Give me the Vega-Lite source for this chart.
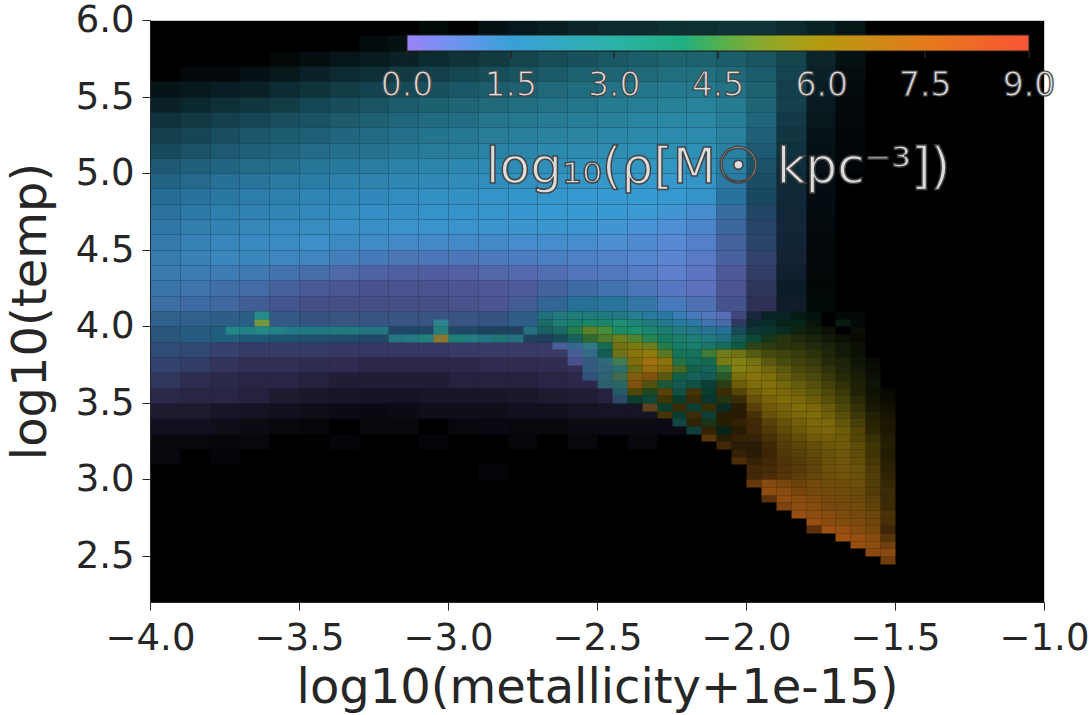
{"$schema":"https://vega.github.io/schema/vega-lite/v6.json","width":894,"height":582,"autosize":{"type":"none"},"padding":{"left":150,"top":20,"right":47,"bottom":113},"background":"white","view":{"fill":"#000000","stroke":"#d0d0d0"},
"config":{"font":"DejaVu Sans"},
"datasets":{"coarse":[
{"x":-3.05,"y":5.95,"v":2.5,"a":0.05},{"x":-2.85,"y":5.95,"v":2.5,"a":0.1},{"x":-2.75,"y":5.95,"v":2.5,"a":0.14},{"x":-2.65,"y":5.95,"v":2.5,"a":0.18},{"x":-2.55,"y":5.95,"v":2.5,"a":0.22},{"x":-2.45,"y":5.95,"v":2.5,"a":0.25},{"x":-2.35,"y":5.95,"v":2.5,"a":0.25},{"x":-2.25,"y":5.95,"v":2.5,"a":0.28},{"x":-2.15,"y":5.95,"v":2.5,"a":0.28},{"x":-2.05,"y":5.95,"v":2.5,"a":0.3},{"x":-1.95,"y":5.95,"v":2.5,"a":0.3},{"x":-1.85,"y":5.95,"v":2.5,"a":0.25},{"x":-1.75,"y":5.95,"v":2.5,"a":0.2},{"x":-1.65,"y":5.95,"v":2.5,"a":0.12},
{"x":-3.25,"y":5.85,"v":2.4,"a":0.07},{"x":-3.15,"y":5.85,"v":2.4,"a":0.1},{"x":-3.05,"y":5.85,"v":2.4,"a":0.14},{"x":-2.95,"y":5.85,"v":2.4,"a":0.2},{"x":-2.85,"y":5.85,"v":2.4,"a":0.25},{"x":-2.75,"y":5.85,"v":2.4,"a":0.28},{"x":-2.65,"y":5.85,"v":2.4,"a":0.32},{"x":-2.55,"y":5.85,"v":2.4,"a":0.36},{"x":-2.45,"y":5.85,"v":2.4,"a":0.4},{"x":-2.35,"y":5.85,"v":2.4,"a":0.42},{"x":-2.25,"y":5.85,"v":2.4,"a":0.45},{"x":-2.15,"y":5.85,"v":2.4,"a":0.45},{"x":-2.05,"y":5.85,"v":2.4,"a":0.45},{"x":-1.95,"y":5.85,"v":2.4,"a":0.42},{"x":-1.85,"y":5.85,"v":2.4,"a":0.35},{"x":-1.75,"y":5.85,"v":2.4,"a":0.22},{"x":-1.65,"y":5.85,"v":2.4,"a":0.1},
{"x":-3.55,"y":5.75,"v":2.3,"a":0.04},{"x":-3.45,"y":5.75,"v":2.3,"a":0.08},{"x":-3.35,"y":5.75,"v":2.3,"a":0.12},{"x":-3.25,"y":5.75,"v":2.3,"a":0.16},{"x":-3.15,"y":5.75,"v":2.3,"a":0.2},{"x":-3.05,"y":5.75,"v":2.3,"a":0.25},{"x":-2.95,"y":5.75,"v":2.3,"a":0.3},{"x":-2.85,"y":5.75,"v":2.3,"a":0.34},{"x":-2.75,"y":5.75,"v":2.3,"a":0.4},{"x":-2.65,"y":5.75,"v":2.3,"a":0.45},{"x":-2.55,"y":5.75,"v":2.3,"a":0.48},{"x":-2.45,"y":5.75,"v":2.3,"a":0.52},{"x":-2.35,"y":5.75,"v":2.3,"a":0.55},{"x":-2.25,"y":5.75,"v":2.3,"a":0.58},{"x":-2.15,"y":5.75,"v":2.3,"a":0.58},{"x":-2.05,"y":5.75,"v":2.3,"a":0.55},{"x":-1.95,"y":5.75,"v":2.3,"a":0.5},{"x":-1.85,"y":5.75,"v":2.3,"a":0.4},{"x":-1.75,"y":5.75,"v":2.3,"a":0.22},{"x":-1.65,"y":5.75,"v":2.3,"a":0.1},
{"x":-3.85,"y":5.65,"v":2.2,"a":0.05},{"x":-3.75,"y":5.65,"v":2.2,"a":0.05},{"x":-3.65,"y":5.65,"v":2.2,"a":0.1},{"x":-3.55,"y":5.65,"v":2.2,"a":0.14},{"x":-3.45,"y":5.65,"v":2.2,"a":0.2},{"x":-3.35,"y":5.65,"v":2.2,"a":0.25},{"x":-3.25,"y":5.65,"v":2.2,"a":0.28},{"x":-3.15,"y":5.65,"v":2.2,"a":0.34},{"x":-3.05,"y":5.65,"v":2.2,"a":0.38},{"x":-2.95,"y":5.65,"v":2.2,"a":0.42},{"x":-2.85,"y":5.65,"v":2.2,"a":0.46},{"x":-2.75,"y":5.65,"v":2.2,"a":0.5},{"x":-2.65,"y":5.65,"v":2.2,"a":0.54},{"x":-2.55,"y":5.65,"v":2.2,"a":0.58},{"x":-2.45,"y":5.65,"v":2.2,"a":0.6},{"x":-2.35,"y":5.65,"v":2.2,"a":0.62},{"x":-2.25,"y":5.65,"v":2.2,"a":0.65},{"x":-2.15,"y":5.65,"v":2.2,"a":0.65},{"x":-2.05,"y":5.65,"v":2.2,"a":0.62},{"x":-1.95,"y":5.65,"v":2.2,"a":0.55},{"x":-1.85,"y":5.65,"v":2.2,"a":0.4},{"x":-1.75,"y":5.65,"v":2.2,"a":0.2},{"x":-1.65,"y":5.65,"v":2.2,"a":0.08},
{"x":-3.95,"y":5.55,"v":2.1,"a":0.12},{"x":-3.85,"y":5.55,"v":2.1,"a":0.14},{"x":-3.75,"y":5.55,"v":2.1,"a":0.18},{"x":-3.65,"y":5.55,"v":2.1,"a":0.2},{"x":-3.55,"y":5.55,"v":2.1,"a":0.26},{"x":-3.45,"y":5.55,"v":2.1,"a":0.3},{"x":-3.35,"y":5.55,"v":2.1,"a":0.36},{"x":-3.25,"y":5.55,"v":2.1,"a":0.4},{"x":-3.15,"y":5.55,"v":2.1,"a":0.44},{"x":-3.05,"y":5.55,"v":2.1,"a":0.48},{"x":-2.95,"y":5.55,"v":2.1,"a":0.52},{"x":-2.85,"y":5.55,"v":2.1,"a":0.56},{"x":-2.75,"y":5.55,"v":2.1,"a":0.58},{"x":-2.65,"y":5.55,"v":2.1,"a":0.62},{"x":-2.55,"y":5.55,"v":2.1,"a":0.65},{"x":-2.45,"y":5.55,"v":2.1,"a":0.68},{"x":-2.35,"y":5.55,"v":2.1,"a":0.7},{"x":-2.25,"y":5.55,"v":2.1,"a":0.72},{"x":-2.15,"y":5.55,"v":2.1,"a":0.72},{"x":-2.05,"y":5.55,"v":2.1,"a":0.68},{"x":-1.95,"y":5.55,"v":2.1,"a":0.58},{"x":-1.85,"y":5.55,"v":2.1,"a":0.38},{"x":-1.75,"y":5.55,"v":2.1,"a":0.18},{"x":-1.65,"y":5.55,"v":2.1,"a":0.06},
{"x":-3.95,"y":5.45,"v":2.1,"a":0.2},{"x":-3.85,"y":5.45,"v":2.1,"a":0.24},{"x":-3.75,"y":5.45,"v":2.1,"a":0.28},{"x":-3.65,"y":5.45,"v":2.1,"a":0.32},{"x":-3.55,"y":5.45,"v":2.1,"a":0.36},{"x":-3.45,"y":5.45,"v":2.1,"a":0.42},{"x":-3.35,"y":5.45,"v":2.1,"a":0.46},{"x":-3.25,"y":5.45,"v":2.1,"a":0.5},{"x":-3.15,"y":5.45,"v":2.1,"a":0.54},{"x":-3.05,"y":5.45,"v":2.1,"a":0.57},{"x":-2.95,"y":5.45,"v":2.1,"a":0.6},{"x":-2.85,"y":5.45,"v":2.1,"a":0.63},{"x":-2.75,"y":5.45,"v":2.1,"a":0.66},{"x":-2.65,"y":5.45,"v":2.1,"a":0.68},{"x":-2.55,"y":5.45,"v":2.1,"a":0.7},{"x":-2.45,"y":5.45,"v":2.1,"a":0.73},{"x":-2.35,"y":5.45,"v":2.1,"a":0.75},{"x":-2.25,"y":5.45,"v":2.1,"a":0.77},{"x":-2.15,"y":5.45,"v":2.1,"a":0.78},{"x":-2.05,"y":5.45,"v":2.1,"a":0.74},{"x":-1.95,"y":5.45,"v":2.1,"a":0.6},{"x":-1.85,"y":5.45,"v":2.1,"a":0.38},{"x":-1.75,"y":5.45,"v":2.1,"a":0.16},{"x":-1.65,"y":5.45,"v":2.1,"a":0.05},
{"x":-3.95,"y":5.35,"v":2,"a":0.3},{"x":-3.85,"y":5.35,"v":2,"a":0.34},{"x":-3.75,"y":5.35,"v":2,"a":0.38},{"x":-3.65,"y":5.35,"v":2,"a":0.42},{"x":-3.55,"y":5.35,"v":2,"a":0.47},{"x":-3.45,"y":5.35,"v":2,"a":0.5},{"x":-3.35,"y":5.35,"v":2,"a":0.54},{"x":-3.25,"y":5.35,"v":2,"a":0.58},{"x":-3.15,"y":5.35,"v":2,"a":0.62},{"x":-3.05,"y":5.35,"v":2,"a":0.64},{"x":-2.95,"y":5.35,"v":2,"a":0.66},{"x":-2.85,"y":5.35,"v":2,"a":0.7},{"x":-2.75,"y":5.35,"v":2,"a":0.72},{"x":-2.65,"y":5.35,"v":2,"a":0.74},{"x":-2.55,"y":5.35,"v":2,"a":0.76},{"x":-2.45,"y":5.35,"v":2,"a":0.78},{"x":-2.35,"y":5.35,"v":2,"a":0.8},{"x":-2.25,"y":5.35,"v":2,"a":0.82},{"x":-2.15,"y":5.35,"v":2,"a":0.82},{"x":-2.05,"y":5.35,"v":2,"a":0.76},{"x":-1.95,"y":5.35,"v":2,"a":0.6},{"x":-1.85,"y":5.35,"v":2,"a":0.35},{"x":-1.75,"y":5.35,"v":2,"a":0.14},{"x":-1.65,"y":5.35,"v":2,"a":0.05},
{"x":-3.95,"y":5.25,"v":1.9,"a":0.38},{"x":-3.85,"y":5.25,"v":1.9,"a":0.42},{"x":-3.75,"y":5.25,"v":1.9,"a":0.47},{"x":-3.65,"y":5.25,"v":1.9,"a":0.52},{"x":-3.55,"y":5.25,"v":1.9,"a":0.55},{"x":-3.45,"y":5.25,"v":1.9,"a":0.58},{"x":-3.35,"y":5.25,"v":1.9,"a":0.62},{"x":-3.25,"y":5.25,"v":1.9,"a":0.65},{"x":-3.15,"y":5.25,"v":1.9,"a":0.68},{"x":-3.05,"y":5.25,"v":1.9,"a":0.7},{"x":-2.95,"y":5.25,"v":1.9,"a":0.72},{"x":-2.85,"y":5.25,"v":1.9,"a":0.75},{"x":-2.75,"y":5.25,"v":1.9,"a":0.77},{"x":-2.65,"y":5.25,"v":1.9,"a":0.79},{"x":-2.55,"y":5.25,"v":1.9,"a":0.8},{"x":-2.45,"y":5.25,"v":1.9,"a":0.82},{"x":-2.35,"y":5.25,"v":1.9,"a":0.84},{"x":-2.25,"y":5.25,"v":1.9,"a":0.85},{"x":-2.15,"y":5.25,"v":1.9,"a":0.85},{"x":-2.05,"y":5.25,"v":1.9,"a":0.78},{"x":-1.95,"y":5.25,"v":1.9,"a":0.58},{"x":-1.85,"y":5.25,"v":1.9,"a":0.32},{"x":-1.75,"y":5.25,"v":1.9,"a":0.12},{"x":-1.65,"y":5.25,"v":1.9,"a":0.04},
{"x":-3.95,"y":5.15,"v":1.8,"a":0.45},{"x":-3.85,"y":5.15,"v":1.8,"a":0.5},{"x":-3.75,"y":5.15,"v":1.8,"a":0.55},{"x":-3.65,"y":5.15,"v":1.8,"a":0.58},{"x":-3.55,"y":5.15,"v":1.8,"a":0.62},{"x":-3.45,"y":5.15,"v":1.8,"a":0.65},{"x":-3.35,"y":5.15,"v":1.8,"a":0.68},{"x":-3.25,"y":5.15,"v":1.8,"a":0.7},{"x":-3.15,"y":5.15,"v":1.8,"a":0.73},{"x":-3.05,"y":5.15,"v":1.8,"a":0.75},{"x":-2.95,"y":5.15,"v":1.8,"a":0.77},{"x":-2.85,"y":5.15,"v":1.8,"a":0.8},{"x":-2.75,"y":5.15,"v":1.8,"a":0.82},{"x":-2.65,"y":5.15,"v":1.8,"a":0.84},{"x":-2.55,"y":5.15,"v":1.8,"a":0.85},{"x":-2.45,"y":5.15,"v":1.8,"a":0.86},{"x":-2.35,"y":5.15,"v":1.8,"a":0.88},{"x":-2.25,"y":5.15,"v":1.8,"a":0.88},{"x":-2.15,"y":5.15,"v":1.8,"a":0.88},{"x":-2.05,"y":5.15,"v":1.8,"a":0.78},{"x":-1.95,"y":5.15,"v":1.8,"a":0.55},{"x":-1.85,"y":5.15,"v":1.8,"a":0.3},{"x":-1.75,"y":5.15,"v":1.8,"a":0.1},{"x":-1.65,"y":5.15,"v":1.8,"a":0.04},
{"x":-3.95,"y":5.05,"v":1.7,"a":0.55},{"x":-3.85,"y":5.05,"v":1.7,"a":0.58},{"x":-3.75,"y":5.05,"v":1.7,"a":0.62},{"x":-3.65,"y":5.05,"v":1.7,"a":0.66},{"x":-3.55,"y":5.05,"v":1.7,"a":0.68},{"x":-3.45,"y":5.05,"v":1.7,"a":0.72},{"x":-3.35,"y":5.05,"v":1.7,"a":0.75},{"x":-3.25,"y":5.05,"v":1.7,"a":0.77},{"x":-3.15,"y":5.05,"v":1.7,"a":0.8},{"x":-3.05,"y":5.05,"v":1.7,"a":0.82},{"x":-2.95,"y":5.05,"v":1.7,"a":0.83},{"x":-2.85,"y":5.05,"v":1.7,"a":0.85},{"x":-2.75,"y":5.05,"v":1.7,"a":0.86},{"x":-2.65,"y":5.05,"v":1.7,"a":0.88},{"x":-2.55,"y":5.05,"v":1.7,"a":0.9},{"x":-2.45,"y":5.05,"v":1.7,"a":0.9},{"x":-2.35,"y":5.05,"v":1.7,"a":0.92},{"x":-2.25,"y":5.05,"v":1.7,"a":0.92},{"x":-2.15,"y":5.05,"v":1.7,"a":0.9},{"x":-2.05,"y":5.05,"v":1.7,"a":0.78},{"x":-1.95,"y":5.05,"v":1.7,"a":0.5},{"x":-1.85,"y":5.05,"v":1.7,"a":0.28},{"x":-1.75,"y":5.05,"v":1.7,"a":0.1},{"x":-1.65,"y":5.05,"v":1.7,"a":0.03},
{"x":-3.95,"y":4.95,"v":1.55,"a":0.62},{"x":-3.85,"y":4.95,"v":1.55,"a":0.66},{"x":-3.75,"y":4.95,"v":1.55,"a":0.7},{"x":-3.65,"y":4.95,"v":1.55,"a":0.72},{"x":-3.55,"y":4.95,"v":1.55,"a":0.75},{"x":-3.45,"y":4.95,"v":1.55,"a":0.77},{"x":-3.35,"y":4.95,"v":1.55,"a":0.8},{"x":-3.25,"y":4.95,"v":1.55,"a":0.82},{"x":-3.15,"y":4.95,"v":1.55,"a":0.84},{"x":-3.05,"y":4.95,"v":1.55,"a":0.85},{"x":-2.95,"y":4.95,"v":1.55,"a":0.87},{"x":-2.85,"y":4.95,"v":1.55,"a":0.88},{"x":-2.75,"y":4.95,"v":1.55,"a":0.9},{"x":-2.65,"y":4.95,"v":1.55,"a":0.92},{"x":-2.55,"y":4.95,"v":1.55,"a":0.93},{"x":-2.45,"y":4.95,"v":1.55,"a":0.94},{"x":-2.35,"y":4.95,"v":1.55,"a":0.95},{"x":-2.25,"y":4.95,"v":1.55,"a":0.95},{"x":-2.15,"y":4.95,"v":1.55,"a":0.92},{"x":-2.05,"y":4.95,"v":1.55,"a":0.76},{"x":-1.95,"y":4.95,"v":1.55,"a":0.48},{"x":-1.85,"y":4.95,"v":1.55,"a":0.26},{"x":-1.75,"y":4.95,"v":1.55,"a":0.08},
{"x":-3.95,"y":4.85,"v":1.5,"a":0.68},{"x":-3.85,"y":4.85,"v":1.5,"a":0.72},{"x":-3.75,"y":4.85,"v":1.5,"a":0.75},{"x":-3.65,"y":4.85,"v":1.5,"a":0.78},{"x":-3.55,"y":4.85,"v":1.5,"a":0.8},{"x":-3.45,"y":4.85,"v":1.5,"a":0.83},{"x":-3.35,"y":4.85,"v":1.5,"a":0.85},{"x":-3.25,"y":4.85,"v":1.5,"a":0.86},{"x":-3.15,"y":4.85,"v":1.5,"a":0.88},{"x":-3.05,"y":4.85,"v":1.5,"a":0.9},{"x":-2.95,"y":4.85,"v":1.5,"a":0.9},{"x":-2.85,"y":4.85,"v":1.5,"a":0.92},{"x":-2.75,"y":4.85,"v":1.5,"a":0.93},{"x":-2.65,"y":4.85,"v":1.5,"a":0.95},{"x":-2.55,"y":4.85,"v":1.5,"a":0.96},{"x":-2.45,"y":4.85,"v":1.5,"a":0.96},{"x":-2.35,"y":4.85,"v":1.5,"a":0.97},{"x":-2.25,"y":4.85,"v":1.5,"a":0.96},{"x":-2.15,"y":4.85,"v":1.5,"a":0.92},{"x":-2.05,"y":4.85,"v":1.5,"a":0.72},{"x":-1.95,"y":4.85,"v":1.5,"a":0.45},{"x":-1.85,"y":4.85,"v":1.4,"a":0.25},{"x":-1.75,"y":4.85,"v":1.4,"a":0.08},
{"x":-3.95,"y":4.75,"v":1.45,"a":0.72},{"x":-3.85,"y":4.75,"v":1.45,"a":0.76},{"x":-3.75,"y":4.75,"v":1.45,"a":0.8},{"x":-3.65,"y":4.75,"v":1.45,"a":0.82},{"x":-3.55,"y":4.75,"v":1.45,"a":0.84},{"x":-3.45,"y":4.75,"v":1.45,"a":0.86},{"x":-3.35,"y":4.75,"v":1.45,"a":0.88},{"x":-3.25,"y":4.75,"v":1.45,"a":0.9},{"x":-3.15,"y":4.75,"v":1.45,"a":0.9},{"x":-3.05,"y":4.75,"v":1.45,"a":0.92},{"x":-2.95,"y":4.75,"v":1.45,"a":0.93},{"x":-2.85,"y":4.75,"v":1.45,"a":0.94},{"x":-2.75,"y":4.75,"v":1.45,"a":0.95},{"x":-2.65,"y":4.75,"v":1.45,"a":0.96},{"x":-2.55,"y":4.75,"v":1.45,"a":0.96},{"x":-2.45,"y":4.75,"v":1.45,"a":0.96},{"x":-2.35,"y":4.75,"v":1.4,"a":0.96},{"x":-2.25,"y":4.75,"v":1.3,"a":0.95},{"x":-2.15,"y":4.75,"v":1.2,"a":0.9},{"x":-2.05,"y":4.75,"v":1.2,"a":0.7},{"x":-1.95,"y":4.75,"v":1.2,"a":0.45},{"x":-1.85,"y":4.75,"v":1.3,"a":0.25},{"x":-1.75,"y":4.75,"v":1.4,"a":0.07},
{"x":-3.95,"y":4.65,"v":1.4,"a":0.75},{"x":-3.85,"y":4.65,"v":1.4,"a":0.8},{"x":-3.75,"y":4.65,"v":1.4,"a":0.82},{"x":-3.65,"y":4.65,"v":1.4,"a":0.85},{"x":-3.55,"y":4.65,"v":1.4,"a":0.87},{"x":-3.45,"y":4.65,"v":1.4,"a":0.88},{"x":-3.35,"y":4.65,"v":1.4,"a":0.9},{"x":-3.25,"y":4.65,"v":1.4,"a":0.9},{"x":-3.15,"y":4.65,"v":1.4,"a":0.92},{"x":-3.05,"y":4.65,"v":1.4,"a":0.92},{"x":-2.95,"y":4.65,"v":1.4,"a":0.92},{"x":-2.85,"y":4.65,"v":1.4,"a":0.93},{"x":-2.75,"y":4.65,"v":1.4,"a":0.94},{"x":-2.65,"y":4.65,"v":1.4,"a":0.94},{"x":-2.55,"y":4.65,"v":1.4,"a":0.95},{"x":-2.45,"y":4.65,"v":1.3,"a":0.95},{"x":-2.35,"y":4.65,"v":1.2,"a":0.95},{"x":-2.25,"y":4.65,"v":1.1,"a":0.93},{"x":-2.15,"y":4.65,"v":1,"a":0.87},{"x":-2.05,"y":4.65,"v":1,"a":0.68},{"x":-1.95,"y":4.65,"v":1,"a":0.45},{"x":-1.85,"y":4.65,"v":1.2,"a":0.25},{"x":-1.75,"y":4.65,"v":1.5,"a":0.06},
{"x":-3.95,"y":4.55,"v":1.35,"a":0.78},{"x":-3.85,"y":4.55,"v":1.35,"a":0.82},{"x":-3.75,"y":4.55,"v":1.35,"a":0.85},{"x":-3.65,"y":4.55,"v":1.35,"a":0.87},{"x":-3.55,"y":4.55,"v":1.35,"a":0.88},{"x":-3.45,"y":4.55,"v":1.35,"a":0.9},{"x":-3.35,"y":4.55,"v":1.3,"a":0.88},{"x":-3.25,"y":4.55,"v":1.25,"a":0.88},{"x":-3.15,"y":4.55,"v":1.2,"a":0.88},{"x":-3.05,"y":4.55,"v":1.2,"a":0.88},{"x":-2.95,"y":4.55,"v":1.2,"a":0.88},{"x":-2.85,"y":4.55,"v":1.2,"a":0.88},{"x":-2.75,"y":4.55,"v":1.2,"a":0.9},{"x":-2.65,"y":4.55,"v":1.2,"a":0.9},{"x":-2.55,"y":4.55,"v":1.15,"a":0.9},{"x":-2.45,"y":4.55,"v":1.1,"a":0.92},{"x":-2.35,"y":4.55,"v":1,"a":0.9},{"x":-2.25,"y":4.55,"v":0.9,"a":0.9},{"x":-2.15,"y":4.55,"v":0.85,"a":0.85},{"x":-2.05,"y":4.55,"v":0.8,"a":0.66},{"x":-1.95,"y":4.55,"v":0.9,"a":0.45},{"x":-1.85,"y":4.55,"v":1.2,"a":0.24},{"x":-1.75,"y":4.55,"v":1.5,"a":0.05},
{"x":-3.95,"y":4.45,"v":1.3,"a":0.78},{"x":-3.85,"y":4.45,"v":1.3,"a":0.82},{"x":-3.75,"y":4.45,"v":1.3,"a":0.85},{"x":-3.65,"y":4.45,"v":1.3,"a":0.85},{"x":-3.55,"y":4.45,"v":1.25,"a":0.85},{"x":-3.45,"y":4.45,"v":1.2,"a":0.85},{"x":-3.35,"y":4.45,"v":1.1,"a":0.82},{"x":-3.25,"y":4.45,"v":1,"a":0.8},{"x":-3.15,"y":4.45,"v":0.9,"a":0.78},{"x":-3.05,"y":4.45,"v":0.85,"a":0.78},{"x":-2.95,"y":4.45,"v":0.85,"a":0.78},{"x":-2.85,"y":4.45,"v":0.9,"a":0.8},{"x":-2.75,"y":4.45,"v":0.95,"a":0.82},{"x":-2.65,"y":4.45,"v":1,"a":0.83},{"x":-2.55,"y":4.45,"v":1,"a":0.85},{"x":-2.45,"y":4.45,"v":0.95,"a":0.85},{"x":-2.35,"y":4.45,"v":0.9,"a":0.88},{"x":-2.25,"y":4.45,"v":0.8,"a":0.88},{"x":-2.15,"y":4.45,"v":0.7,"a":0.82},{"x":-2.05,"y":4.45,"v":0.65,"a":0.66},{"x":-1.95,"y":4.45,"v":0.7,"a":0.45},{"x":-1.85,"y":4.45,"v":1,"a":0.22},{"x":-1.75,"y":4.45,"v":1.5,"a":0.05},
{"x":-3.95,"y":4.35,"v":1.25,"a":0.78},{"x":-3.85,"y":4.35,"v":1.2,"a":0.8},{"x":-3.75,"y":4.35,"v":1.15,"a":0.8},{"x":-3.65,"y":4.35,"v":1.1,"a":0.78},{"x":-3.55,"y":4.35,"v":1,"a":0.75},{"x":-3.45,"y":4.35,"v":0.85,"a":0.72},{"x":-3.35,"y":4.35,"v":0.7,"a":0.7},{"x":-3.25,"y":4.35,"v":0.6,"a":0.68},{"x":-3.15,"y":4.35,"v":0.55,"a":0.66},{"x":-3.05,"y":4.35,"v":0.5,"a":0.66},{"x":-2.95,"y":4.35,"v":0.5,"a":0.68},{"x":-2.85,"y":4.35,"v":0.55,"a":0.7},{"x":-2.75,"y":4.35,"v":0.6,"a":0.72},{"x":-2.65,"y":4.35,"v":0.7,"a":0.74},{"x":-2.55,"y":4.35,"v":0.75,"a":0.78},{"x":-2.45,"y":4.35,"v":0.8,"a":0.8},{"x":-2.35,"y":4.35,"v":0.75,"a":0.82},{"x":-2.25,"y":4.35,"v":0.7,"a":0.85},{"x":-2.15,"y":4.35,"v":0.6,"a":0.8},{"x":-2.05,"y":4.35,"v":0.5,"a":0.62},{"x":-1.95,"y":4.35,"v":0.6,"a":0.42},{"x":-1.85,"y":4.35,"v":1,"a":0.2},{"x":-1.75,"y":4.35,"v":2,"a":0.04},
{"x":-3.95,"y":4.25,"v":1.2,"a":0.75},{"x":-3.85,"y":4.25,"v":1.1,"a":0.75},{"x":-3.75,"y":4.25,"v":1,"a":0.72},{"x":-3.65,"y":4.25,"v":0.9,"a":0.7},{"x":-3.55,"y":4.25,"v":0.75,"a":0.65},{"x":-3.45,"y":4.25,"v":0.6,"a":0.62},{"x":-3.35,"y":4.25,"v":0.5,"a":0.6},{"x":-3.25,"y":4.25,"v":0.45,"a":0.58},{"x":-3.15,"y":4.25,"v":0.4,"a":0.58},{"x":-3.05,"y":4.25,"v":0.4,"a":0.58},{"x":-2.95,"y":4.25,"v":0.4,"a":0.6},{"x":-2.85,"y":4.25,"v":0.45,"a":0.62},{"x":-2.75,"y":4.25,"v":0.5,"a":0.64},{"x":-2.65,"y":4.25,"v":0.8,"a":0.66},{"x":-2.55,"y":4.25,"v":1,"a":0.7},{"x":-2.45,"y":4.25,"v":1,"a":0.75},{"x":-2.35,"y":4.25,"v":0.85,"a":0.78},{"x":-2.25,"y":4.25,"v":0.7,"a":0.8},{"x":-2.15,"y":4.25,"v":0.55,"a":0.78},{"x":-2.05,"y":4.25,"v":0.45,"a":0.6},{"x":-1.95,"y":4.25,"v":0.5,"a":0.38},{"x":-1.85,"y":4.25,"v":1.5,"a":0.18},{"x":-1.75,"y":4.25,"v":2.5,"a":0.04},
{"x":-3.95,"y":4.15,"v":1.1,"a":0.72},{"x":-3.85,"y":4.15,"v":1,"a":0.7},{"x":-3.75,"y":4.15,"v":0.9,"a":0.68},{"x":-3.65,"y":4.15,"v":0.8,"a":0.62},{"x":-3.55,"y":4.15,"v":0.6,"a":0.58},{"x":-3.45,"y":4.15,"v":0.45,"a":0.55},{"x":-3.35,"y":4.15,"v":0.45,"a":0.55},{"x":-3.25,"y":4.15,"v":0.45,"a":0.55},{"x":-3.15,"y":4.15,"v":0.45,"a":0.55},{"x":-3.05,"y":4.15,"v":0.45,"a":0.55},{"x":-2.95,"y":4.15,"v":0.45,"a":0.58},{"x":-2.85,"y":4.15,"v":0.45,"a":0.6},{"x":-2.75,"y":4.15,"v":0.7,"a":0.62},{"x":-2.65,"y":4.15,"v":1.2,"a":0.66},{"x":-2.55,"y":4.15,"v":1.6,"a":0.7},{"x":-2.45,"y":4.15,"v":1.6,"a":0.72},{"x":-2.35,"y":4.15,"v":1.3,"a":0.75},{"x":-2.25,"y":4.15,"v":1,"a":0.8},{"x":-2.15,"y":4.15,"v":0.8,"a":0.75},{"x":-2.05,"y":4.15,"v":0.5,"a":0.58},{"x":-1.95,"y":4.15,"v":0.4,"a":0.35},{"x":-1.85,"y":4.15,"v":1,"a":0.18},{"x":-1.75,"y":4.15,"v":3,"a":0.05},
{"x":-3.95,"y":4.05,"v":1.2,"a":0.62},{"x":-3.85,"y":4.05,"v":1.2,"a":0.62},{"x":-3.75,"y":4.05,"v":1.2,"a":0.6},{"x":-3.65,"y":4.05,"v":1.3,"a":0.6},{"x":-3.55,"y":4.05,"v":1,"a":0.58},{"x":-3.45,"y":4.05,"v":0.9,"a":0.55},{"x":-3.35,"y":4.05,"v":0.8,"a":0.55},{"x":-3.25,"y":4.05,"v":0.8,"a":0.55},{"x":-3.15,"y":4.05,"v":0.8,"a":0.55},{"x":-3.05,"y":4.05,"v":0.8,"a":0.55},{"x":-2.95,"y":4.05,"v":0.8,"a":0.55},{"x":-2.85,"y":4.05,"v":0.9,"a":0.55},{"x":-2.75,"y":4.05,"v":1.2,"a":0.6},{"x":-1.65,"y":4.05,"v":3.5,"a":0.05},
{"x":-3.95,"y":3.95,"v":1.2,"a":0.55},{"x":-3.85,"y":3.95,"v":1.3,"a":0.58},{"x":-3.75,"y":3.95,"v":1.5,"a":0.58},{"x":-3.65,"y":3.95,"v":1.5,"a":0.55},{"x":-3.55,"y":3.95,"v":1.5,"a":0.52},{"x":-3.45,"y":3.95,"v":1.5,"a":0.5},{"x":-3.35,"y":3.95,"v":1.4,"a":0.48},{"x":-3.25,"y":3.95,"v":1.3,"a":0.46},{"x":-3.15,"y":3.95,"v":1.3,"a":0.46},{"x":-3.05,"y":3.95,"v":1.3,"a":0.46},{"x":-2.95,"y":3.95,"v":1.3,"a":0.46},{"x":-2.85,"y":3.95,"v":1.3,"a":0.42},{"x":-2.75,"y":3.95,"v":1.2,"a":0.42},
{"x":-3.95,"y":3.85,"v":0.9,"a":0.5},{"x":-3.85,"y":3.85,"v":0.8,"a":0.48},{"x":-3.75,"y":3.85,"v":0.6,"a":0.45},{"x":-3.65,"y":3.85,"v":0.4,"a":0.42},{"x":-3.55,"y":3.85,"v":0.4,"a":0.42},{"x":-3.45,"y":3.85,"v":0.4,"a":0.42},{"x":-3.35,"y":3.85,"v":0.3,"a":0.4},{"x":-3.25,"y":3.85,"v":0.3,"a":0.4},{"x":-3.15,"y":3.85,"v":0.3,"a":0.4},{"x":-3.05,"y":3.85,"v":0.3,"a":0.4},{"x":-2.95,"y":3.85,"v":0.3,"a":0.42},{"x":-2.85,"y":3.85,"v":0.3,"a":0.42},{"x":-2.75,"y":3.85,"v":0.3,"a":0.42},{"x":-2.65,"y":3.85,"v":0.3,"a":0.42},{"x":-2.55,"y":3.85,"v":0.3,"a":0.42},
{"x":-3.95,"y":3.75,"v":0.7,"a":0.45},{"x":-3.85,"y":3.75,"v":0.5,"a":0.42},{"x":-3.75,"y":3.75,"v":0.3,"a":0.38},{"x":-3.65,"y":3.75,"v":0.2,"a":0.35},{"x":-3.55,"y":3.75,"v":0.2,"a":0.35},{"x":-3.45,"y":3.75,"v":0.2,"a":0.33},{"x":-3.35,"y":3.75,"v":0.1,"a":0.32},{"x":-3.25,"y":3.75,"v":0.1,"a":0.3},{"x":-3.15,"y":3.75,"v":0.1,"a":0.3},{"x":-3.05,"y":3.75,"v":0.1,"a":0.3},{"x":-2.95,"y":3.75,"v":0.1,"a":0.3},{"x":-2.85,"y":3.75,"v":0.1,"a":0.32},{"x":-2.75,"y":3.75,"v":0.1,"a":0.32},{"x":-2.65,"y":3.75,"v":0.1,"a":0.33},{"x":-2.55,"y":3.75,"v":0.1,"a":0.35},{"x":-2.45,"y":3.75,"v":0.1,"a":0.35},
{"x":-3.95,"y":3.65,"v":0.4,"a":0.38},{"x":-3.85,"y":3.65,"v":0.3,"a":0.33},{"x":-3.75,"y":3.65,"v":0.2,"a":0.3},{"x":-3.65,"y":3.65,"v":0.1,"a":0.28},{"x":-3.55,"y":3.65,"v":0.1,"a":0.28},{"x":-3.45,"y":3.65,"v":0.1,"a":0.25},{"x":-3.35,"y":3.65,"v":0.1,"a":0.22},{"x":-3.25,"y":3.65,"v":0.1,"a":0.22},{"x":-3.15,"y":3.65,"v":0.1,"a":0.22},{"x":-3.05,"y":3.65,"v":0.1,"a":0.22},{"x":-2.95,"y":3.65,"v":0.1,"a":0.25},{"x":-2.85,"y":3.65,"v":0.1,"a":0.25},{"x":-2.75,"y":3.65,"v":0.1,"a":0.25},{"x":-2.65,"y":3.65,"v":0.1,"a":0.28},{"x":-2.55,"y":3.65,"v":0.1,"a":0.3},{"x":-2.45,"y":3.65,"v":0.1,"a":0.3},
{"x":-3.95,"y":3.55,"v":0.2,"a":0.3},{"x":-3.85,"y":3.55,"v":0.1,"a":0.28},{"x":-3.75,"y":3.55,"v":0.1,"a":0.28},{"x":-3.65,"y":3.55,"v":0.1,"a":0.25},{"x":-3.55,"y":3.55,"v":0.1,"a":0.2},{"x":-3.45,"y":3.55,"v":0.1,"a":0.18},{"x":-3.35,"y":3.55,"v":0.1,"a":0.16},{"x":-3.25,"y":3.55,"v":0.1,"a":0.14},{"x":-3.15,"y":3.55,"v":0.1,"a":0.14},{"x":-3.05,"y":3.55,"v":0.1,"a":0.16},{"x":-2.95,"y":3.55,"v":0.1,"a":0.16},{"x":-2.85,"y":3.55,"v":0.1,"a":0.16},{"x":-2.75,"y":3.55,"v":0.1,"a":0.18},{"x":-2.65,"y":3.55,"v":0.1,"a":0.2},{"x":-2.55,"y":3.55,"v":0.1,"a":0.22},{"x":-2.45,"y":3.55,"v":0.1,"a":0.25},
{"x":-3.95,"y":3.45,"v":0.1,"a":0.2},{"x":-3.85,"y":3.45,"v":0.1,"a":0.2},{"x":-3.75,"y":3.45,"v":0.1,"a":0.16},{"x":-3.65,"y":3.45,"v":0.1,"a":0.14},{"x":-3.55,"y":3.45,"v":0.1,"a":0.12},{"x":-3.45,"y":3.45,"v":0.1,"a":0.1},{"x":-3.35,"y":3.45,"v":0.1,"a":0.08},{"x":-3.25,"y":3.45,"v":0.1,"a":0.07},{"x":-3.15,"y":3.45,"v":0.1,"a":0.08},{"x":-3.05,"y":3.45,"v":0.1,"a":0.1},{"x":-2.95,"y":3.45,"v":0.1,"a":0.1},{"x":-2.85,"y":3.45,"v":0.1,"a":0.1},{"x":-2.75,"y":3.45,"v":0.1,"a":0.12},{"x":-2.65,"y":3.45,"v":0.1,"a":0.12},{"x":-2.55,"y":3.45,"v":0.1,"a":0.14},{"x":-2.45,"y":3.45,"v":0.1,"a":0.15},{"x":-2.35,"y":3.45,"v":0.1,"a":0.15},
{"x":-3.95,"y":3.35,"v":0.1,"a":0.12},{"x":-3.85,"y":3.35,"v":0.1,"a":0.12},{"x":-3.75,"y":3.35,"v":0.1,"a":0.1},{"x":-3.65,"y":3.35,"v":0.1,"a":0.08},{"x":-3.55,"y":3.35,"v":0.1,"a":0.05},{"x":-3.45,"y":3.35,"v":0.1,"a":0.04},{"x":-3.25,"y":3.35,"v":0.1,"a":0.06},{"x":-3.15,"y":3.35,"v":0.1,"a":0.05},{"x":-2.95,"y":3.35,"v":0.1,"a":0.05},{"x":-2.85,"y":3.35,"v":0.1,"a":0.07},{"x":-2.75,"y":3.35,"v":0.1,"a":0.05},{"x":-2.65,"y":3.35,"v":0.1,"a":0.06},{"x":-2.55,"y":3.35,"v":0.1,"a":0.08},{"x":-2.45,"y":3.35,"v":0.1,"a":0.08},{"x":-2.35,"y":3.35,"v":0.1,"a":0.08},{"x":-2.25,"y":3.35,"v":0.1,"a":0.08},
{"x":-3.95,"y":3.25,"v":0.1,"a":0.06},{"x":-3.85,"y":3.25,"v":0.1,"a":0.05},{"x":-3.75,"y":3.25,"v":0.1,"a":0.04},{"x":-3.65,"y":3.25,"v":0.1,"a":0.05},{"x":-3.35,"y":3.25,"v":0.1,"a":0.03},{"x":-3.05,"y":3.25,"v":0.1,"a":0.03},{"x":-2.75,"y":3.25,"v":0.1,"a":0.04},{"x":-2.55,"y":3.25,"v":0.1,"a":0.05},{"x":-2.35,"y":3.25,"v":0.1,"a":0.05},
{"x":-3.95,"y":3.15,"v":0.1,"a":0.05},{"x":-3.75,"y":3.15,"v":0.1,"a":0.03},{"x":-2.85,"y":3.05,"v":0.1,"a":0.03}
],
"fine":[
{"x":-3.725,"y":3.975,"v":3.5,"a":0.5},{"x":-3.675,"y":3.975,"v":3.4,"a":0.45},{"x":-3.625,"y":4.025,"v":5.2,"a":0.75},{"x":-3.625,"y":4.075,"v":3.8,"a":0.55},{"x":-3.625,"y":3.975,"v":3.5,"a":0.55},{"x":-3.575,"y":3.975,"v":3.2,"a":0.5},{"x":-3.525,"y":3.975,"v":3,"a":0.42},{"x":-3.475,"y":3.975,"v":3.2,"a":0.42},{"x":-3.425,"y":3.975,"v":3,"a":0.42},{"x":-3.375,"y":3.975,"v":3.3,"a":0.45},{"x":-3.325,"y":3.975,"v":3.3,"a":0.45},{"x":-3.275,"y":3.975,"v":3,"a":0.42},{"x":-3.225,"y":3.975,"v":3,"a":0.42},{"x":-3.175,"y":3.925,"v":3,"a":0.42},{"x":-3.125,"y":3.925,"v":3.2,"a":0.48},{"x":-3.075,"y":3.925,"v":3.6,"a":0.55},{"x":-3.025,"y":3.925,"v":6.5,"a":0.65},{"x":-3.025,"y":3.975,"v":3.6,"a":0.55},{"x":-3.025,"y":4.025,"v":3.2,"a":0.5},{"x":-2.975,"y":3.925,"v":4,"a":0.55},{"x":-2.925,"y":3.925,"v":3.4,"a":0.5},{"x":-2.875,"y":3.925,"v":3,"a":0.45},{"x":-2.825,"y":3.925,"v":3.6,"a":0.45},{"x":-2.775,"y":3.925,"v":3,"a":0.42},{"x":-2.725,"y":3.975,"v":3,"a":0.42},
{"x":-2.675,"y":4.075,"v":2.3,"a":0.65},{"x":-2.625,"y":4.075,"v":2.6,"a":0.7},{"x":-2.575,"y":4.075,"v":2.8,"a":0.7},{"x":-2.525,"y":4.075,"v":2.8,"a":0.7},{"x":-2.475,"y":4.075,"v":2.6,"a":0.7},{"x":-2.425,"y":4.075,"v":2.4,"a":0.7},{"x":-2.375,"y":4.075,"v":2.2,"a":0.75},{"x":-2.325,"y":4.075,"v":1.8,"a":0.75},{"x":-2.275,"y":4.075,"v":1.6,"a":0.75},{"x":-2.225,"y":4.075,"v":1.3,"a":0.8},{"x":-2.175,"y":4.075,"v":1,"a":0.8},{"x":-2.125,"y":4.075,"v":0.8,"a":0.8},{"x":-2.075,"y":4.075,"v":0.6,"a":0.75},{"x":-2.025,"y":4.075,"v":0.4,"a":0.5},{"x":-1.975,"y":4.075,"v":0.8,"a":0.25},{"x":-1.925,"y":4.075,"v":2.5,"a":0.2},{"x":-1.875,"y":4.075,"v":3,"a":0.2},{"x":-1.825,"y":4.075,"v":3.5,"a":0.15},{"x":-1.775,"y":4.075,"v":4,"a":0.1},
{"x":-2.675,"y":4.025,"v":2.8,"a":0.6},{"x":-2.625,"y":4.025,"v":3,"a":0.7},{"x":-2.575,"y":4.025,"v":3.4,"a":0.7},{"x":-2.525,"y":4.025,"v":3.6,"a":0.75},{"x":-2.475,"y":4.025,"v":3.6,"a":0.75},{"x":-2.425,"y":4.025,"v":3.5,"a":0.8},{"x":-2.375,"y":4.025,"v":3.2,"a":0.75},{"x":-2.325,"y":4.025,"v":2.8,"a":0.7},{"x":-2.275,"y":4.025,"v":2.2,"a":0.7},{"x":-2.225,"y":4.025,"v":1.8,"a":0.75},{"x":-2.175,"y":4.025,"v":1.4,"a":0.75},{"x":-2.125,"y":4.025,"v":1,"a":0.75},{"x":-2.075,"y":4.025,"v":0.8,"a":0.7},{"x":-2.025,"y":4.025,"v":0.5,"a":0.4},{"x":-1.975,"y":4.025,"v":2,"a":0.25},{"x":-1.925,"y":4.025,"v":3,"a":0.25},{"x":-1.875,"y":4.025,"v":4,"a":0.2},{"x":-1.825,"y":4.025,"v":4,"a":0.2},{"x":-1.775,"y":4.025,"v":4.5,"a":0.12},{"x":-1.675,"y":4.025,"v":4.5,"a":0.1},
{"x":-2.675,"y":3.975,"v":2.6,"a":0.55},{"x":-2.625,"y":3.975,"v":3,"a":0.6},{"x":-2.575,"y":3.975,"v":4.2,"a":0.7},{"x":-2.525,"y":3.975,"v":5,"a":0.75},{"x":-2.475,"y":3.975,"v":4.6,"a":0.8},{"x":-2.425,"y":3.975,"v":4,"a":0.8},{"x":-2.375,"y":3.975,"v":3.8,"a":0.8},{"x":-2.325,"y":3.975,"v":3.5,"a":0.75},{"x":-2.275,"y":3.975,"v":3.2,"a":0.7},{"x":-2.225,"y":3.975,"v":2.6,"a":0.7},{"x":-2.175,"y":3.975,"v":2.2,"a":0.7},{"x":-2.125,"y":3.975,"v":1.8,"a":0.7},{"x":-2.075,"y":3.975,"v":1.5,"a":0.7},{"x":-2.025,"y":3.975,"v":2,"a":0.45},{"x":-1.975,"y":3.975,"v":3,"a":0.3},{"x":-1.925,"y":3.975,"v":3.5,"a":0.3},{"x":-1.875,"y":3.975,"v":4,"a":0.25},{"x":-1.825,"y":3.975,"v":4.5,"a":0.2},{"x":-1.775,"y":3.975,"v":4.5,"a":0.15},{"x":-1.725,"y":3.975,"v":5,"a":0.1},{"x":-1.625,"y":3.975,"v":5,"a":0.08},
{"x":-2.675,"y":3.925,"v":1.2,"a":0.4},{"x":-2.625,"y":3.925,"v":2.2,"a":0.45},{"x":-2.575,"y":3.925,"v":3,"a":0.55},{"x":-2.525,"y":3.925,"v":4.5,"a":0.6},{"x":-2.475,"y":3.925,"v":4.8,"a":0.7},{"x":-2.425,"y":3.925,"v":5.2,"a":0.75},{"x":-2.375,"y":3.925,"v":4.8,"a":0.75},{"x":-2.325,"y":3.925,"v":4.2,"a":0.75},{"x":-2.275,"y":3.925,"v":3.8,"a":0.7},{"x":-2.225,"y":3.925,"v":3.4,"a":0.7},{"x":-2.175,"y":3.925,"v":3,"a":0.7},{"x":-2.125,"y":3.925,"v":2.6,"a":0.7},{"x":-2.075,"y":3.925,"v":2.3,"a":0.65},{"x":-2.025,"y":3.925,"v":3,"a":0.5},{"x":-1.975,"y":3.925,"v":3.8,"a":0.4},{"x":-1.925,"y":3.925,"v":4.5,"a":0.3},{"x":-1.875,"y":3.925,"v":5,"a":0.3},{"x":-1.825,"y":3.925,"v":5,"a":0.25},{"x":-1.775,"y":3.925,"v":5,"a":0.2},{"x":-1.725,"y":3.925,"v":5,"a":0.15},{"x":-1.675,"y":3.925,"v":5,"a":0.1},{"x":-1.625,"y":3.925,"v":5,"a":0.06},
{"x":-2.625,"y":3.875,"v":0.8,"a":0.4},{"x":-2.575,"y":3.875,"v":2,"a":0.42},{"x":-2.525,"y":3.875,"v":3,"a":0.5},{"x":-2.475,"y":3.875,"v":3.8,"a":0.6},{"x":-2.425,"y":3.875,"v":5.5,"a":0.7},{"x":-2.375,"y":3.875,"v":5.6,"a":0.75},{"x":-2.325,"y":3.875,"v":5.2,"a":0.75},{"x":-2.275,"y":3.875,"v":4.2,"a":0.7},{"x":-2.225,"y":3.875,"v":3.6,"a":0.7},{"x":-2.175,"y":3.875,"v":3.4,"a":0.7},{"x":-2.125,"y":3.875,"v":3.2,"a":0.65},{"x":-2.075,"y":3.875,"v":3.4,"a":0.6},{"x":-2.025,"y":3.875,"v":4,"a":0.5},{"x":-1.975,"y":3.875,"v":4.8,"a":0.4},{"x":-1.925,"y":3.875,"v":5,"a":0.35},{"x":-1.875,"y":3.875,"v":5.2,"a":0.3},{"x":-1.825,"y":3.875,"v":5.2,"a":0.3},{"x":-1.775,"y":3.875,"v":5,"a":0.25},{"x":-1.725,"y":3.875,"v":5,"a":0.2},{"x":-1.675,"y":3.875,"v":5,"a":0.15},{"x":-1.625,"y":3.875,"v":5,"a":0.1},
{"x":-2.575,"y":3.825,"v":1,"a":0.38},{"x":-2.525,"y":3.825,"v":2.6,"a":0.42},{"x":-2.475,"y":3.825,"v":3,"a":0.5},{"x":-2.425,"y":3.825,"v":5.4,"a":0.7},{"x":-2.375,"y":3.825,"v":6,"a":0.75},{"x":-2.325,"y":3.825,"v":6,"a":0.8},{"x":-2.275,"y":3.825,"v":5,"a":0.7},{"x":-2.225,"y":3.825,"v":3.8,"a":0.65},{"x":-2.175,"y":3.825,"v":3.6,"a":0.65},{"x":-2.125,"y":3.825,"v":4.6,"a":0.7},{"x":-2.075,"y":3.825,"v":5.3,"a":0.75},{"x":-2.025,"y":3.825,"v":5.5,"a":0.7},{"x":-1.975,"y":3.825,"v":5.4,"a":0.55},{"x":-1.925,"y":3.825,"v":5.4,"a":0.45},{"x":-1.875,"y":3.825,"v":5.4,"a":0.4},{"x":-1.825,"y":3.825,"v":5.4,"a":0.35},{"x":-1.775,"y":3.825,"v":5.2,"a":0.3},{"x":-1.725,"y":3.825,"v":5.2,"a":0.22},{"x":-1.675,"y":3.825,"v":5,"a":0.15},{"x":-1.625,"y":3.825,"v":5,"a":0.1},
{"x":-2.575,"y":3.775,"v":0.6,"a":0.35},{"x":-2.525,"y":3.775,"v":2.4,"a":0.38},{"x":-2.475,"y":3.775,"v":3,"a":0.45},{"x":-2.425,"y":3.775,"v":4.5,"a":0.6},{"x":-2.375,"y":3.775,"v":6,"a":0.7},{"x":-2.325,"y":3.775,"v":6.6,"a":0.8},{"x":-2.275,"y":3.775,"v":6,"a":0.75},{"x":-2.225,"y":3.775,"v":4.2,"a":0.65},{"x":-2.175,"y":3.775,"v":3.5,"a":0.6},{"x":-2.125,"y":3.775,"v":4,"a":0.6},{"x":-2.075,"y":3.775,"v":5.5,"a":0.75},{"x":-2.025,"y":3.775,"v":5.6,"a":0.8},{"x":-1.975,"y":3.775,"v":5.6,"a":0.7},{"x":-1.925,"y":3.775,"v":5.6,"a":0.55},{"x":-1.875,"y":3.775,"v":5.5,"a":0.45},{"x":-1.825,"y":3.775,"v":5.5,"a":0.4},{"x":-1.775,"y":3.775,"v":5.4,"a":0.35},{"x":-1.725,"y":3.775,"v":5.2,"a":0.25},{"x":-1.675,"y":3.775,"v":5.2,"a":0.2},{"x":-1.625,"y":3.775,"v":5,"a":0.12},{"x":-1.575,"y":3.775,"v":5,"a":0.06},
{"x":-2.525,"y":3.725,"v":2,"a":0.38},{"x":-2.475,"y":3.725,"v":3,"a":0.42},{"x":-2.425,"y":3.725,"v":4,"a":0.5},{"x":-2.375,"y":3.725,"v":5.5,"a":0.65},{"x":-2.325,"y":3.725,"v":6.5,"a":0.75},{"x":-2.275,"y":3.725,"v":6.2,"a":0.7},{"x":-2.225,"y":3.725,"v":5,"a":0.6},{"x":-2.175,"y":3.725,"v":3.8,"a":0.55},{"x":-2.125,"y":3.725,"v":3,"a":0.55},{"x":-2.075,"y":3.725,"v":4.5,"a":0.65},{"x":-2.025,"y":3.725,"v":5.7,"a":0.8},{"x":-1.975,"y":3.725,"v":5.8,"a":0.75},{"x":-1.925,"y":3.725,"v":5.8,"a":0.65},{"x":-1.875,"y":3.725,"v":5.7,"a":0.55},{"x":-1.825,"y":3.725,"v":5.6,"a":0.45},{"x":-1.775,"y":3.725,"v":5.5,"a":0.4},{"x":-1.725,"y":3.725,"v":5.4,"a":0.3},{"x":-1.675,"y":3.725,"v":5.2,"a":0.22},{"x":-1.625,"y":3.725,"v":5,"a":0.15},{"x":-1.575,"y":3.725,"v":5,"a":0.08},
{"x":-2.525,"y":3.675,"v":1.5,"a":0.35},{"x":-2.475,"y":3.675,"v":3,"a":0.42},{"x":-2.425,"y":3.675,"v":4.5,"a":0.5},{"x":-2.375,"y":3.675,"v":6.5,"a":0.65},{"x":-2.325,"y":3.675,"v":7,"a":0.6},{"x":-2.275,"y":3.675,"v":5.5,"a":0.55},{"x":-2.225,"y":3.675,"v":4,"a":0.55},{"x":-2.175,"y":3.675,"v":3.2,"a":0.55},{"x":-2.125,"y":3.675,"v":3,"a":0.5},{"x":-2.075,"y":3.675,"v":4.5,"a":0.5},{"x":-2.025,"y":3.675,"v":5.8,"a":0.7},{"x":-1.975,"y":3.675,"v":6,"a":0.75},{"x":-1.925,"y":3.675,"v":5.9,"a":0.7},{"x":-1.875,"y":3.675,"v":5.8,"a":0.6},{"x":-1.825,"y":3.675,"v":5.7,"a":0.5},{"x":-1.775,"y":3.675,"v":5.6,"a":0.45},{"x":-1.725,"y":3.675,"v":5.5,"a":0.35},{"x":-1.675,"y":3.675,"v":5.4,"a":0.25},{"x":-1.625,"y":3.675,"v":5.2,"a":0.18},{"x":-1.575,"y":3.675,"v":5,"a":0.1},
{"x":-2.475,"y":3.625,"v":3,"a":0.4},{"x":-2.425,"y":3.625,"v":3.8,"a":0.45},{"x":-2.375,"y":3.625,"v":6.8,"a":0.6},{"x":-2.325,"y":3.625,"v":5.5,"a":0.5},{"x":-2.275,"y":3.625,"v":4.2,"a":0.5},{"x":-2.225,"y":3.625,"v":3.2,"a":0.5},{"x":-2.175,"y":3.625,"v":3.5,"a":0.45},{"x":-2.125,"y":3.625,"v":3.5,"a":0.35},{"x":-2.075,"y":3.625,"v":5,"a":0.35},{"x":-2.025,"y":3.625,"v":6,"a":0.6},{"x":-1.975,"y":3.625,"v":6,"a":0.7},{"x":-1.925,"y":3.625,"v":6,"a":0.72},{"x":-1.875,"y":3.625,"v":5.9,"a":0.65},{"x":-1.825,"y":3.625,"v":5.8,"a":0.58},{"x":-1.775,"y":3.625,"v":5.7,"a":0.5},{"x":-1.725,"y":3.625,"v":5.6,"a":0.4},{"x":-1.675,"y":3.625,"v":5.5,"a":0.3},{"x":-1.625,"y":3.625,"v":5.3,"a":0.2},{"x":-1.575,"y":3.625,"v":5,"a":0.12},
{"x":-2.425,"y":3.575,"v":3.2,"a":0.4},{"x":-2.375,"y":3.575,"v":5.8,"a":0.45},{"x":-2.325,"y":3.575,"v":4.5,"a":0.4},{"x":-2.275,"y":3.575,"v":6.5,"a":0.45},{"x":-2.225,"y":3.575,"v":3.5,"a":0.45},{"x":-2.175,"y":3.575,"v":6.5,"a":0.35},{"x":-2.125,"y":3.575,"v":4,"a":0.35},{"x":-2.075,"y":3.575,"v":6.5,"a":0.3},{"x":-2.025,"y":3.575,"v":6.2,"a":0.45},{"x":-1.975,"y":3.575,"v":6.1,"a":0.62},{"x":-1.925,"y":3.575,"v":6,"a":0.7},{"x":-1.875,"y":3.575,"v":6,"a":0.68},{"x":-1.825,"y":3.575,"v":5.9,"a":0.62},{"x":-1.775,"y":3.575,"v":5.8,"a":0.55},{"x":-1.725,"y":3.575,"v":5.7,"a":0.45},{"x":-1.675,"y":3.575,"v":5.6,"a":0.35},{"x":-1.625,"y":3.575,"v":5.5,"a":0.2},{"x":-1.575,"y":3.575,"v":5.2,"a":0.1},{"x":-1.525,"y":3.575,"v":5.5,"a":0.06},
{"x":-2.425,"y":3.525,"v":2,"a":0.3},{"x":-2.375,"y":3.525,"v":4,"a":0.35},{"x":-2.325,"y":3.525,"v":3.5,"a":0.4},{"x":-2.275,"y":3.525,"v":6,"a":0.35},{"x":-2.225,"y":3.525,"v":4,"a":0.35},{"x":-2.175,"y":3.525,"v":6.5,"a":0.3},{"x":-2.125,"y":3.525,"v":3.5,"a":0.3},{"x":-2.075,"y":3.525,"v":5,"a":0.3},{"x":-2.025,"y":3.525,"v":6.5,"a":0.3},{"x":-1.975,"y":3.525,"v":6.3,"a":0.55},{"x":-1.925,"y":3.525,"v":6.1,"a":0.65},{"x":-1.875,"y":3.525,"v":6,"a":0.7},{"x":-1.825,"y":3.525,"v":6,"a":0.68},{"x":-1.775,"y":3.525,"v":5.9,"a":0.6},{"x":-1.725,"y":3.525,"v":5.8,"a":0.5},{"x":-1.675,"y":3.525,"v":5.7,"a":0.4},{"x":-1.625,"y":3.525,"v":5.6,"a":0.25},{"x":-1.575,"y":3.525,"v":5.5,"a":0.12},{"x":-1.525,"y":3.525,"v":6,"a":0.07},
{"x":-2.325,"y":3.475,"v":6.5,"a":0.4},{"x":-2.275,"y":3.475,"v":4,"a":0.35},{"x":-2.225,"y":3.475,"v":6.5,"a":0.3},{"x":-2.175,"y":3.475,"v":3.5,"a":0.35},{"x":-2.125,"y":3.475,"v":6,"a":0.3},{"x":-2.075,"y":3.475,"v":3.5,"a":0.25},{"x":-2.025,"y":3.475,"v":6.8,"a":0.2},{"x":-1.975,"y":3.475,"v":6.5,"a":0.45},{"x":-1.925,"y":3.475,"v":6.2,"a":0.6},{"x":-1.875,"y":3.475,"v":6.1,"a":0.65},{"x":-1.825,"y":3.475,"v":6,"a":0.7},{"x":-1.775,"y":3.475,"v":6,"a":0.68},{"x":-1.725,"y":3.475,"v":5.9,"a":0.58},{"x":-1.675,"y":3.475,"v":5.8,"a":0.45},{"x":-1.625,"y":3.475,"v":5.7,"a":0.3},{"x":-1.575,"y":3.475,"v":5.6,"a":0.15},{"x":-1.525,"y":3.475,"v":6,"a":0.1},
{"x":-2.275,"y":3.425,"v":6.5,"a":0.35},{"x":-2.225,"y":3.425,"v":3.8,"a":0.35},{"x":-2.175,"y":3.425,"v":6.5,"a":0.3},{"x":-2.125,"y":3.425,"v":3.2,"a":0.35},{"x":-2.075,"y":3.425,"v":6.5,"a":0.2},{"x":-2.025,"y":3.425,"v":7,"a":0.2},{"x":-1.975,"y":3.425,"v":6.6,"a":0.35},{"x":-1.925,"y":3.425,"v":6.3,"a":0.55},{"x":-1.875,"y":3.425,"v":6.1,"a":0.62},{"x":-1.825,"y":3.425,"v":6.1,"a":0.68},{"x":-1.775,"y":3.425,"v":6,"a":0.7},{"x":-1.725,"y":3.425,"v":6,"a":0.62},{"x":-1.675,"y":3.425,"v":5.9,"a":0.5},{"x":-1.625,"y":3.425,"v":5.8,"a":0.35},{"x":-1.575,"y":3.425,"v":5.7,"a":0.2},{"x":-1.525,"y":3.425,"v":6,"a":0.12},
{"x":-2.225,"y":3.375,"v":3.2,"a":0.35},{"x":-2.175,"y":3.375,"v":6.5,"a":0.25},{"x":-2.125,"y":3.375,"v":4.5,"a":0.3},{"x":-2.075,"y":3.375,"v":6,"a":0.2},{"x":-2.025,"y":3.375,"v":7,"a":0.25},{"x":-1.975,"y":3.375,"v":6.8,"a":0.3},{"x":-1.925,"y":3.375,"v":6.4,"a":0.45},{"x":-1.875,"y":3.375,"v":6.2,"a":0.55},{"x":-1.825,"y":3.375,"v":6.1,"a":0.62},{"x":-1.775,"y":3.375,"v":6.1,"a":0.68},{"x":-1.725,"y":3.375,"v":6,"a":0.68},{"x":-1.675,"y":3.375,"v":6,"a":0.55},{"x":-1.625,"y":3.375,"v":5.9,"a":0.4},{"x":-1.575,"y":3.375,"v":5.8,"a":0.22},{"x":-1.525,"y":3.375,"v":6,"a":0.15},
{"x":-2.175,"y":3.325,"v":3,"a":0.35},{"x":-2.125,"y":3.325,"v":6.8,"a":0.25},{"x":-2.075,"y":3.325,"v":4,"a":0.2},{"x":-2.025,"y":3.325,"v":7,"a":0.2},{"x":-1.975,"y":3.325,"v":7,"a":0.3},{"x":-1.925,"y":3.325,"v":6.5,"a":0.4},{"x":-1.875,"y":3.325,"v":6.3,"a":0.5},{"x":-1.825,"y":3.325,"v":6.2,"a":0.58},{"x":-1.775,"y":3.325,"v":6.1,"a":0.65},{"x":-1.725,"y":3.325,"v":6.1,"a":0.68},{"x":-1.675,"y":3.325,"v":6,"a":0.6},{"x":-1.625,"y":3.325,"v":6,"a":0.45},{"x":-1.575,"y":3.325,"v":5.9,"a":0.25},{"x":-1.525,"y":3.325,"v":6,"a":0.15},
{"x":-2.125,"y":3.275,"v":7,"a":0.4},{"x":-2.075,"y":3.275,"v":6.5,"a":0.2},{"x":-2.025,"y":3.275,"v":7,"a":0.25},{"x":-1.975,"y":3.275,"v":7,"a":0.25},{"x":-1.925,"y":3.275,"v":6.7,"a":0.35},{"x":-1.875,"y":3.275,"v":6.4,"a":0.45},{"x":-1.825,"y":3.275,"v":6.3,"a":0.52},{"x":-1.775,"y":3.275,"v":6.2,"a":0.6},{"x":-1.725,"y":3.275,"v":6.2,"a":0.62},{"x":-1.675,"y":3.275,"v":6.1,"a":0.6},{"x":-1.625,"y":3.275,"v":6,"a":0.45},{"x":-1.575,"y":3.275,"v":6,"a":0.3},{"x":-1.525,"y":3.275,"v":6,"a":0.18},
{"x":-2.075,"y":3.225,"v":7,"a":0.3},{"x":-2.025,"y":3.225,"v":6.5,"a":0.2},{"x":-1.975,"y":3.225,"v":7,"a":0.2},{"x":-1.925,"y":3.225,"v":6.8,"a":0.3},{"x":-1.875,"y":3.225,"v":6.6,"a":0.42},{"x":-1.825,"y":3.225,"v":6.4,"a":0.48},{"x":-1.775,"y":3.225,"v":6.3,"a":0.52},{"x":-1.725,"y":3.225,"v":6.2,"a":0.58},{"x":-1.675,"y":3.225,"v":6.2,"a":0.6},{"x":-1.625,"y":3.225,"v":6.1,"a":0.5},{"x":-1.575,"y":3.225,"v":6,"a":0.35},{"x":-1.525,"y":3.225,"v":6,"a":0.2},
{"x":-2.025,"y":3.175,"v":7,"a":0.25},{"x":-1.975,"y":3.175,"v":7,"a":0.2},{"x":-1.925,"y":3.175,"v":7,"a":0.28},{"x":-1.875,"y":3.175,"v":6.8,"a":0.4},{"x":-1.825,"y":3.175,"v":6.5,"a":0.45},{"x":-1.775,"y":3.175,"v":6.4,"a":0.5},{"x":-1.725,"y":3.175,"v":6.3,"a":0.55},{"x":-1.675,"y":3.175,"v":6.2,"a":0.58},{"x":-1.625,"y":3.175,"v":6.2,"a":0.5},{"x":-1.575,"y":3.175,"v":6.2,"a":0.35},{"x":-1.525,"y":3.175,"v":6.2,"a":0.18},
{"x":-2.025,"y":3.125,"v":7.2,"a":0.35},{"x":-1.975,"y":3.125,"v":7,"a":0.25},{"x":-1.925,"y":3.125,"v":7,"a":0.3},{"x":-1.875,"y":3.125,"v":6.8,"a":0.38},{"x":-1.825,"y":3.125,"v":6.6,"a":0.42},{"x":-1.775,"y":3.125,"v":6.5,"a":0.48},{"x":-1.725,"y":3.125,"v":6.4,"a":0.55},{"x":-1.675,"y":3.125,"v":6.3,"a":0.58},{"x":-1.625,"y":3.125,"v":6.3,"a":0.52},{"x":-1.575,"y":3.125,"v":6.2,"a":0.38},{"x":-1.525,"y":3.125,"v":6.2,"a":0.2},
{"x":-1.975,"y":3.075,"v":7.2,"a":0.3},{"x":-1.925,"y":3.075,"v":7,"a":0.32},{"x":-1.875,"y":3.075,"v":6.9,"a":0.38},{"x":-1.825,"y":3.075,"v":6.7,"a":0.42},{"x":-1.775,"y":3.075,"v":6.6,"a":0.48},{"x":-1.725,"y":3.075,"v":6.5,"a":0.55},{"x":-1.675,"y":3.075,"v":6.4,"a":0.58},{"x":-1.625,"y":3.075,"v":6.3,"a":0.55},{"x":-1.575,"y":3.075,"v":6.3,"a":0.4},{"x":-1.525,"y":3.075,"v":6.3,"a":0.22},
{"x":-1.975,"y":3.025,"v":7.2,"a":0.3},{"x":-1.925,"y":3.025,"v":7.2,"a":0.35},{"x":-1.875,"y":3.025,"v":7,"a":0.4},{"x":-1.825,"y":3.025,"v":6.9,"a":0.45},{"x":-1.775,"y":3.025,"v":6.7,"a":0.5},{"x":-1.725,"y":3.025,"v":6.6,"a":0.55},{"x":-1.675,"y":3.025,"v":6.5,"a":0.58},{"x":-1.625,"y":3.025,"v":6.4,"a":0.55},{"x":-1.575,"y":3.025,"v":6.3,"a":0.42},{"x":-1.525,"y":3.025,"v":6.4,"a":0.25},
{"x":-1.975,"y":2.975,"v":7.5,"a":0.45},{"x":-1.925,"y":2.975,"v":7.4,"a":0.6},{"x":-1.875,"y":2.975,"v":7.2,"a":0.55},{"x":-1.825,"y":2.975,"v":7,"a":0.5},{"x":-1.775,"y":2.975,"v":6.9,"a":0.55},{"x":-1.725,"y":2.975,"v":6.7,"a":0.55},{"x":-1.675,"y":2.975,"v":6.6,"a":0.55},{"x":-1.625,"y":2.975,"v":6.5,"a":0.55},{"x":-1.575,"y":2.975,"v":6.4,"a":0.42},{"x":-1.525,"y":2.975,"v":6.5,"a":0.28},
{"x":-1.925,"y":2.925,"v":7.5,"a":0.62},{"x":-1.875,"y":2.925,"v":7.4,"a":0.6},{"x":-1.825,"y":2.925,"v":7.2,"a":0.55},{"x":-1.775,"y":2.925,"v":7,"a":0.55},{"x":-1.725,"y":2.925,"v":6.9,"a":0.55},{"x":-1.675,"y":2.925,"v":6.7,"a":0.55},{"x":-1.625,"y":2.925,"v":6.6,"a":0.52},{"x":-1.575,"y":2.925,"v":6.5,"a":0.42},{"x":-1.525,"y":2.925,"v":6.5,"a":0.3},
{"x":-1.925,"y":2.875,"v":7.6,"a":0.4},{"x":-1.875,"y":2.875,"v":7.5,"a":0.62},{"x":-1.825,"y":2.875,"v":7.4,"a":0.6},{"x":-1.775,"y":2.875,"v":7.2,"a":0.58},{"x":-1.725,"y":2.875,"v":7,"a":0.55},{"x":-1.675,"y":2.875,"v":6.8,"a":0.55},{"x":-1.625,"y":2.875,"v":6.7,"a":0.52},{"x":-1.575,"y":2.875,"v":6.6,"a":0.45},{"x":-1.525,"y":2.875,"v":6.6,"a":0.3},
{"x":-1.875,"y":2.825,"v":7.6,"a":0.55},{"x":-1.825,"y":2.825,"v":7.5,"a":0.62},{"x":-1.775,"y":2.825,"v":7.3,"a":0.6},{"x":-1.725,"y":2.825,"v":7.1,"a":0.55},{"x":-1.675,"y":2.825,"v":7,"a":0.55},{"x":-1.625,"y":2.825,"v":6.8,"a":0.55},{"x":-1.575,"y":2.825,"v":6.7,"a":0.48},{"x":-1.525,"y":2.825,"v":6.7,"a":0.3},
{"x":-1.825,"y":2.775,"v":7.6,"a":0.65},{"x":-1.775,"y":2.775,"v":7.5,"a":0.62},{"x":-1.725,"y":2.775,"v":7.3,"a":0.6},{"x":-1.675,"y":2.775,"v":7.1,"a":0.58},{"x":-1.625,"y":2.775,"v":7,"a":0.55},{"x":-1.575,"y":2.775,"v":6.9,"a":0.5},{"x":-1.525,"y":2.775,"v":6.8,"a":0.35},
{"x":-1.775,"y":2.725,"v":7.6,"a":0.65},{"x":-1.725,"y":2.725,"v":7.4,"a":0.62},{"x":-1.675,"y":2.725,"v":7.2,"a":0.6},{"x":-1.625,"y":2.725,"v":7.1,"a":0.58},{"x":-1.575,"y":2.725,"v":7,"a":0.52},{"x":-1.525,"y":2.725,"v":6.9,"a":0.35},
{"x":-1.775,"y":2.675,"v":7.6,"a":0.4},{"x":-1.725,"y":2.675,"v":7.6,"a":0.68},{"x":-1.675,"y":2.675,"v":7.5,"a":0.65},{"x":-1.625,"y":2.675,"v":7.3,"a":0.6},{"x":-1.575,"y":2.675,"v":7.1,"a":0.55},{"x":-1.525,"y":2.675,"v":7,"a":0.3},
{"x":-1.675,"y":2.625,"v":7.6,"a":0.68},{"x":-1.625,"y":2.625,"v":7.5,"a":0.65},{"x":-1.575,"y":2.625,"v":7.3,"a":0.6},{"x":-1.525,"y":2.625,"v":7.1,"a":0.4},
{"x":-1.625,"y":2.575,"v":7.6,"a":0.65},{"x":-1.575,"y":2.575,"v":7.5,"a":0.62},{"x":-1.525,"y":2.575,"v":7.4,"a":0.5},
{"x":-1.575,"y":2.525,"v":7.6,"a":0.6},{"x":-1.525,"y":2.525,"v":7.5,"a":0.6},{"x":-1.525,"y":2.475,"v":7.5,"a":0.5}
],
"ticks":[{"x":-3.138,"y":5.805,"y2":5.75},{"x":-2.79,"y":5.805,"y2":5.75},{"x":-2.442,"y":5.805,"y2":5.75},{"x":-2.094,"y":5.805,"y2":5.75},{"x":-1.746,"y":5.805,"y2":5.75},{"x":-1.398,"y":5.805,"y2":5.75},{"x":-1.05,"y":5.805,"y2":5.75}]},
"layer":[
{"data":{"name":"coarse"},"mark":{"type":"rect","strokeWidth":0,"binSpacing":0},"encoding":{
"x":{"field":"x","type":"quantitative","bin":{"step":0.1,"extent":[-4,-1]},"scale":{"domain":[-4,-1],"nice":false,"zero":false,"round":true},"title":"log10(metallicity+1e-15)","axis":{"values":[-4,-3.5,-3,-2.5,-2,-1.5,-1],"format":".1f","grid":false,"labelFlush":false,"labelOverlap":false,"labelFontSize":37,"titleFontSize":48,"titleFontWeight":"normal","labelColor":"#262626","titleColor":"#262626","domainColor":"#262626","tickColor":"#262626","tickSize":8,"labelPadding":10,"titlePadding":8}},
"y":{"field":"y","type":"quantitative","bin":{"step":0.1,"extent":[2.2,6]},"scale":{"domain":[2.2,6],"nice":false,"zero":false,"round":true},"title":"log10(temp)","axis":{"values":[2.5,3,3.5,4,4.5,5,5.5,6],"format":".1f","grid":false,"labelFlush":false,"labelOverlap":false,"labelFontSize":37,"titleFontSize":48,"titleFontWeight":"normal","labelColor":"#262626","titleColor":"#262626","domainColor":"#262626","tickColor":"#262626","tickSize":8,"labelPadding":8,"titlePadding":20}},
"color":{"field":"v","type":"quantitative","scale":{"domain":[0,0.75,1.5,3,4,4.5,5.25,6,7.5,9],"range":["#9b82f7","#6a96f0","#38a0d8","#2bb3a8","#1fb080","#50b050","#95a825","#b59a10","#e47a1a","#fb5535"],"interpolate":"rgb"},
"title":"log₁₀(ρ[M☉ kpc⁻³])","legend":{"orient":"none","legendX":257,"legendY":15,"direction":"horizontal","gradientLength":622,"gradientThickness":16,"gradientStrokeColor":"#222222","gradientStrokeWidth":1,"values":[0,1.5,3,4.5,6,7.5,9],"format":".1f","labelFontSize":33,"labelColor":"#dddddd","labelOffset":19,"labelOverlap":false,"titleOrient":"bottom","titleFontSize":50,"titleFontWeight":"normal","titleColor":"#dddddd","titleAnchor":"middle","titleLimit":1000,"titlePadding":40,"encoding":{"labels":{"stroke":{"value":"#444444"},"strokeWidth":{"value":1.2},"align":{"value":"center"}},"title":{"stroke":{"value":"#444444"},"strokeWidth":{"value":1.5}}}}},
"opacity":{"field":"a","type":"quantitative","scale":{"domain":[0,1],"range":[0,1]},"legend":null}}},
{"data":{"name":"fine"},"mark":{"type":"rect","strokeWidth":0,"binSpacing":0},"encoding":{
"x":{"field":"x","type":"quantitative","bin":{"step":0.05,"extent":[-4,-1]}},
"y":{"field":"y","type":"quantitative","bin":{"step":0.05,"extent":[2.2,6]}},
"color":{"field":"v","type":"quantitative"},
"opacity":{"field":"a","type":"quantitative","legend":null}}},
{"data":{"name":"ticks"},"mark":{"type":"rule","color":"#222222","strokeWidth":1.5},"encoding":{"x":{"field":"x","type":"quantitative"},"y":{"field":"y","type":"quantitative"},"y2":{"field":"y2"}}}
]}
